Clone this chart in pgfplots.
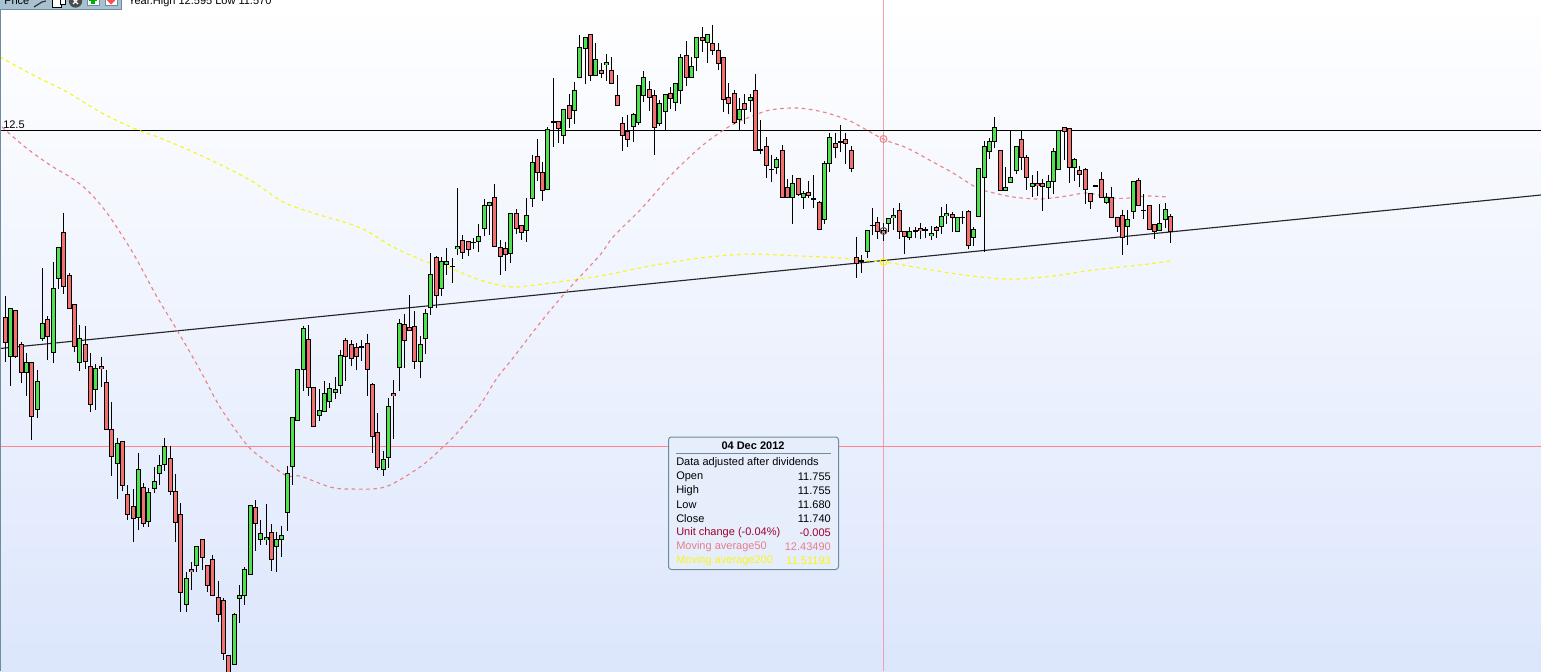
\documentclass[border=0pt]{standalone}
\usepackage{pgfplots}
\usepackage{pgfplotstable}
\usepackage{fontspec}
\setmainfont{Liberation Sans}
\pgfplotsset{compat=1.18}
\definecolor{cgreen}{RGB}{80,225,80}
\definecolor{cred}{RGB}{242,112,112}
\definecolor{ma50}{RGB}{235,130,135}
\definecolor{ma200}{RGB}{250,245,20}
\definecolor{hred}{RGB}{255,135,135}
\definecolor{cross}{RGB}{240,160,170}
\definecolor{bgbot}{RGB}{220,230,252}
\definecolor{framec}{RGB}{110,140,158}
\definecolor{boxf}{RGB}{230,238,252}
\definecolor{tool}{RGB}{168,193,208}
\definecolor{uchg}{RGB}{160,0,45}
\definecolor{ma50t}{RGB}{232,125,140}
% columns: day index, wick top, body top, body bottom, wick bottom (pixel rows of the chart)
\pgfplotstableread{
i wt bt bb wb
1 308.3 308.3 356.3 385.7
4 353 362.3 372.3 395.7
6 370.3 381.3 409.3 417.7
7 268.3 323.3 338.3 340.7
9 262.3 288.3 352.3 362.7
10 247.3 247.3 278.3 288.7
14 325.3 338.3 362.3 370.7
17 364.3 368.3 389.3 409.7
21 438.3 443.3 463.3 498.7
25 453.3 469.3 517.3 529.7
27 488.3 492.3 521.3 526.7
28 467.3 481.3 488.3 492.3
29 455.3 465.3 473.3 484.7
30 438.3 446.3 464.3 470.7
34 572.3 578.3 604.3 611.7
36 546.3 546.3 565.3 571.7
43 613.3 614.3 664.3 664.3
44 585.3 595.3 598.3 622.7
45 567.3 569.3 595.3 604.7
46 505.3 505.3 574.3 574.3
48 520.3 533.3 539.3 544.7
49 504.3 537.3 539.3 544.7
51 532.3 539.3 546.3 571.7
52 526.3 535.3 539.3 556.7
53 466.3 473.3 512.3 530.7
54 417.3 417.3 466.3 484.7
55 369.3 369.3 420.3 420.3
56 326.3 328.3 369.3 390
59 389 410.3 415.3 420
60 381.3 393.3 411.3 411.3
61 383.3 388.3 401.3 407
62 377.3 389.3 392.3 398.3
63 350.3 355.3 385.3 393.3
71 451.3 459.3 469.3 475
72 398.3 406.3 457.3 467.3
74 319.3 323.3 367.3 390.3
78 336.3 344.3 361.3 377
79 309.3 313.3 338.3 353
80 253.3 274.3 307.3 314
82 257.3 261.3 288.3 295.3
83 248.3 261.3 264.3 274
85 188.3 246.3 248.3 254
89 224.3 236.3 241.3 251
90 199.3 205.3 228.3 235.3
91 202.3 202.3 205.3 234.3
95 213.3 213.3 253.3 262
98 198.3 215.3 230.3 241.7
99 155 162.3 198.3 206.7
102 127.3 129.3 189.3 189.3
105 109.3 109.3 135.3 143.3
107 82.3 90.3 110.3 123.7
108 35.3 47.3 77.3 77.3
109 37.3 37.3 48.3 83.3
111 43.3 59.3 75.3 75.3
113 54.3 62.3 64.3 80
118 113.3 114.3 126.3 141.7
119 85.3 85.3 122.3 124.3
120 71.3 77.3 95.3 101.7
123 100.3 103.3 123.3 125.7
124 94.3 94.3 111.3 130.3
126 83.3 83.3 102.3 110
127 54.3 57.3 90.3 103.3
129 57.3 66.3 77.3 77.3
130 37.3 37.3 57.3 70
132 34.3 34.3 42.3 62.3
138 98.3 109.3 119.3 130.3
140 94.3 97.3 100.3 111.7
145 157.3 159.3 167.3 173.3
148 175.3 183.3 197.3 223.3
150 191.3 193.3 197.3 208.7
154 161.3 163.3 219.3 223.3
155 133.3 137.3 163.3 171.7
162 230.3 230.3 251.7 257.7
166 218.3 218.3 223.3 231.3
167 208.3 215.3 217.3 229.3
170 227.3 231.3 237.3 239.3
174 226.3 233.3 235.3 239.3
176 207.3 216.3 226.3 233.3
177 204.3 213.3 215.3 223.3
179 217.3 217.3 231.3 231.3
182 227.3 229.3 237.3 245.3
183 168.3 168.3 216.3 216.3
184 141.7 146.3 177.3 251.3
185 138.3 141.3 151.3 158.3
186 117.3 127.3 141.3 147.3
188 167.3 187.3 190.3 190.3
189 130.3 177.3 182.3 182.3
190 146.3 146.3 170.3 173.3
193 175.3 183.3 186.3 196.3
196 175.3 181.3 187.3 198.3
197 148.3 151.3 181.3 193.3
198 130.3 130.3 169.3 169.3
201 158.3 159.3 167.3 180
207 193.3 197.3 202.3 203.3
211 210.3 219.3 226.3 244.3
212 181.3 181.3 211.3 218.3
217 204.3 223.3 230.3 230.3
218 203.3 209.3 219.3 227.3
}\greentbl
\pgfplotstableread{
i wt bt bb wb
0 296 317 342.3 361
2 310.3 310.3 356.3 357.7
3 342.3 344.3 372.3 382.7
5 362.3 362.3 416.3 439.7
8 316.3 319.3 336.3 359.7
11 213.3 232.3 286.3 293.7
12 273.3 275.3 308.3 308.3
13 304.3 304.3 346.3 351.7
15 326.3 344.3 361.7 368.7
16 353.3 366.3 404.3 411.7
18 357.3 366.3 368.3 386.7
19 370.3 382.3 429.3 429.3
20 402.3 429.3 456.3 475.7
22 441.3 441.3 485.3 490.7
23 485.3 494.3 514.3 519.7
24 489.3 506.3 518.3 541.7
26 483.3 487.3 523.3 526.7
31 446.3 458.3 491.3 494.7
32 474.3 491.3 522.3 541.7
33 503.3 514.3 592.3 611.7
35 562.3 569.3 571.3 589.7
37 539.3 539.3 557.3 569.7
38 565.3 565.3 585.3 591.7
39 555.3 559.3 595.3 595.3
40 581.3 597.3 614.3 621.7
41 598.3 600.3 653.3 659.7
42 655.3 655.3 673 673
47 500.3 507.3 523.3 550.7
50 524.3 532.3 559.3 570.7
57 325.3 339.3 387.3 395
58 387.3 387.3 426.3 426.3
64 338.3 340.3 356.3 380
65 340.3 344.3 358.3 365
66 343.3 347.3 356.3 369
68 334.3 343.3 369.3 395
69 383.3 384.3 436.3 452
70 413.3 432.3 467.3 469
73 380.3 393.3 395.3 438
75 314.3 324.3 340.3 367
76 295.3 327.3 330.3 330.3
77 311.3 326.3 361.3 368
81 256.3 257.3 295.3 307.7
86 235.3 240.3 252.3 258
87 241.3 241.3 249.3 255
92 184.3 197.3 246.3 246.3
93 240.3 247.3 256.3 274
94 242.3 248.3 254.3 270
96 209.3 213.3 228.3 233.3
97 225.3 225.3 232.3 239.3
100 139.3 156.3 172.3 180
101 162.3 172.3 190.3 200
104 121.7 121.7 128.3 142.7
106 94.3 105.3 118.3 127.7
110 34.3 34.3 75.3 80.7
112 63.3 70.3 73.3 77.3
114 57.3 70.3 83.3 83.3
115 75.3 95.3 105.3 105.3
116 117.3 123.3 135.3 150
117 115.3 131.3 139.3 146.7
121 81.3 89.3 97.3 110
122 90.3 95.3 127.3 154
125 87.3 93.3 98.3 108.3
128 41.3 55.3 77.3 85.3
131 27.3 37.3 40.3 51.3
133 25.3 43.3 50.3 54.3
134 43.3 50.3 63.3 69
135 57.3 57.3 99.3 111.3
136 83.3 97.3 103.3 113.3
137 90.3 93.3 122.3 123.3
139 94.3 103.3 109.3 123.3
141 74.3 90.3 150.3 150.3
143 137.3 146.3 165.3 177.7
146 145.3 150.3 197.3 197.3
147 179.3 187.3 197.3 197.3
149 178.3 178.3 194.3 195.7
151 181.3 192.3 195.3 197.3
153 201.3 202.3 229.3 229.3
156 133.3 143.3 147.3 157.3
158 133.3 139.3 143.3 163.3
159 146.7 150.3 168.3 171.7
160 237 257.3 263.3 277.7
164 217.3 222.3 231.3 238.3
165 223.3 230.7 232.3 240
168 203.3 210.3 231.3 238.3
169 231.3 231.3 236.3 253.7
172 223.3 228.3 230.3 238.3
175 226.3 227.3 230.3 237.3
178 212.3 214.3 217.3 231.7
181 210.3 211.3 245.3 248.3
187 150.3 150.3 190.3 190.3
191 130.3 139.3 157.3 169.3
192 155.3 157.3 177.3 189.3
194 171.3 183.3 185.3 195.3
195 179.3 183.3 186.3 210
199 127.3 127.3 131.3 159.3
200 128.3 128.3 167.3 182.7
202 166.3 170.3 174.3 186.3
203 168.3 169.3 189.3 203.3
204 193.3 193.3 201.3 208
206 172.3 179.3 197.3 197.3
208 187.3 197.3 217.3 217.3
209 217.3 217.3 226.3 231.3
210 210.3 215.3 237.3 254.3
213 178.3 180.3 205.3 205.3
215 205.3 205.3 229.3 229.3
216 224.3 224.3 231.7 238.3
219 214 216.3 231.7 242
}\redtbl
\pgfplotstableread{
i wt y wb
67 340.3 346.7 360
84 258.3 266.3 282
88 238.3 242.3 248.3
103 78.3 121.7 146.7
142 120.3 150 153.3
144 155.3 169.3 181.7
152 175.3 198.7 207.3
157 125.3 142 151.3
161 255 261 272.3
163 208.3 225.3 234.7
171 227.3 230.7 237.3
173 227.3 229.7 237.3
180 211.3 217.3 223.3
205 185.3 186 186.7
214 194.3 210.3 218.3
}\dojitbl
\newcommand{\xpos}{floor(5.33+5.32*\thisrow{i})+0.5}
\newcommand{\wicks}[1]{%
 \addplot[draw=none,mark=none,forget plot,error bars/.cd,y dir=both,y explicit,error mark=none,
   error bar style={solid,draw=black,line width=0.75pt}]
   table[x expr={\xpos},y expr={(floor(\thisrow{wt})+floor(\thisrow{wb})+1)/2},y error expr={(floor(\thisrow{wb})+1-floor(\thisrow{wt}))/2}]{#1};}
\newcommand{\bodies}[2]{%
 \addplot[draw=none,mark=none,forget plot,error bars/.cd,y dir=both,y explicit,error mark=none,
   error bar style={solid,draw=black,line width=3.75pt}]
   table[x expr={\xpos},y expr={(floor(\thisrow{bt})+floor(\thisrow{bb})+1)/2},y error expr={(floor(\thisrow{bb})+1-floor(\thisrow{bt}))/2}]{#1};
 \addplot[draw=none,mark=none,forget plot,error bars/.cd,y dir=both,y explicit,error mark=none,
   error bar style={solid,draw=#2,line width=2.6pt}]
   table[x expr={\xpos},y expr={(floor(\thisrow{bt})+floor(\thisrow{bb})+1)/2},y error expr={max((floor(\thisrow{bb})+1-floor(\thisrow{bt}))/2-1,0.3)}]{#1};}
\newcommand{\tf}{\fontsize{8.25}{10}\selectfont}
\begin{document}
\begin{tikzpicture}
\begin{axis}[
  scale only axis,width=1155.75pt,height=503.25pt,
  xmin=0,xmax=1541,ymin=0,ymax=671,y dir=reverse,
  axis lines=none,clip=true,
  axis background/.style={top color=white,bottom color=bgbot},
]
% crosshair and horizontal levels
\addplot[cross,line width=0.75pt,forget plot] coordinates {(883.5,0) (883.5,671)};
\addplot[black,line width=0.75pt,forget plot] coordinates {(0,130.5) (1541,130.5)};
\addplot[hred,line width=0.75pt,forget plot] coordinates {(0,446.5) (1541,446.5)};
\addplot[black!85,line width=0.85pt,forget plot] coordinates {(0,348.5) (1541,195)};
% moving average 200
\addplot[ma200,smooth,line width=0.85pt,dash pattern=on 2.7pt off 2.7pt,forget plot] coordinates {
(0,57) (33,75) (67,92) (100,112) (133,128) (160,138) (200,155) (250,180) (283,202) (313,213) (347,223) (367,231) (393,247) (427,262) (450,268) (480,280) (513,287) (557,282) (600,276) (650,266) (700,258) (750,254) (800,256) (840,258) (883,262) (897,264) (950,273) (990,278) (1017,279) (1053,276) (1093,270) (1140,265) (1170,261)};
% moving average 50
\addplot[ma50,smooth,line width=0.85pt,dash pattern=on 2.7pt off 2.7pt,forget plot] coordinates {
(2,127) (25,147) (50,165) (70,177) (87,190) (107,213) (133,253) (157,297) (177,330) (200,370) (220,407) (247,445) (267,462) (287,476) (300,476) (330,487) (350,489) (385,487) (420,467) (443,447) (457,433) (480,405) (497,378) (513,358) (540,323) (565,293) (600,255) (613,237) (642,208) (673,173) (703,145) (730,126) (750,117) (770,110) (797,108) (823,112) (850,121) (883,139) (907,148) (933,162) (953,173) (977,188) (990,192) (1013,197) (1040,199) (1067,196) (1087,193) (1113,198) (1130,198) (1147,196) (1167,197)};
% candles
\wicks{\greentbl}\wicks{\redtbl}\wicks{\dojitbl}
\bodies{\greentbl}{cgreen}
\bodies{\redtbl}{cred}
\addplot[draw=none,mark=none,forget plot,error bars/.cd,y dir=both,y explicit,error mark=none,
   error bar style={solid,draw=black,line width=3.75pt}]
   table[x expr={\xpos},y=y,y error expr=0.6]{\dojitbl};
% markers on the crosshair
\draw[ma50,line width=0.75pt] (axis cs:883.5,139) circle[radius=2.6pt];
\draw[black!70,line width=0.75pt] (axis cs:883.5,231) circle[radius=2.6pt];
\draw[ma200,line width=0.75pt] (axis cs:883.5,262) circle[radius=2.6pt];
% left frame and level label
\fill[framec] (axis cs:0,0) rectangle (axis cs:1.2,671);
\node[anchor=west,inner sep=0pt,font=\tf] at (axis cs:3,124.5) {12.5};
% toolbar
\fill[tool] (axis cs:0,0) rectangle (axis cs:121,9.5);
\draw[framec,line width=0.75pt] (axis cs:0,9.5) -- (axis cs:121,9.5) -- (axis cs:121,0);
\node[anchor=west,inner sep=0pt,font=\tf] at (axis cs:4,1) {Price};
\draw[black!80,line width=0.9pt] (axis cs:34,7) -- (axis cs:42,2) -- (axis cs:46,1);
\draw[black,line width=0.75pt,fill=white] (axis cs:52,-2) rectangle (axis cs:61,7);
\draw[black,line width=0.75pt,fill=white] (axis cs:60,-1) rectangle (axis cs:65,4);
\fill[black!70] (axis cs:75.5,1) circle[radius=5pt];
\draw[white,line width=0.9pt] (axis cs:73,-1) -- (axis cs:78,4) (axis cs:78,-1) -- (axis cs:73,4);
\fill[white] (axis cs:87,-1) rectangle (axis cs:99,5);
\draw[framec,line width=0.75pt] (axis cs:87,-1) rectangle (axis cs:99,5);
\fill[green!70!black] (axis cs:91,-1) rectangle (axis cs:95,3.5);
\fill[green!70!black] (axis cs:89,-1) rectangle (axis cs:97,1);
\fill[white] (axis cs:105,-1) rectangle (axis cs:117,5);
\draw[framec,line width=0.75pt] (axis cs:105,-1) rectangle (axis cs:117,5);
\fill[red!70] (axis cs:107,-1) -- (axis cs:115,-1) -- (axis cs:115,0.5) -- (axis cs:111,4.5) -- (axis cs:107,0.5) -- cycle;
\node[anchor=west,inner sep=0pt,font=\tf] at (axis cs:128,1.8) {Year.High 12.595 Low 11.570};
% information box
\draw[framec,fill=boxf,line width=0.75pt,rounded corners=2.2pt] (axis cs:668.5,437) rectangle (axis cs:838.5,569.5);
\draw[framec,line width=0.75pt] (axis cs:676,453.5) -- (axis cs:831,453.5);
\node[inner sep=0pt,font=\tf\bfseries] at (axis cs:753,446) {04 Dec 2012};
\node[anchor=west,inner sep=0pt,font=\tf] at (axis cs:676,463) {Data adjusted after dividends};
\node[anchor=west,inner sep=0pt,font=\tf] at (axis cs:676,477) {Open};
\node[anchor=east,inner sep=0pt,font=\tf] at (axis cs:831,477) {11.755};
\node[anchor=west,inner sep=0pt,font=\tf] at (axis cs:676,491) {High};
\node[anchor=east,inner sep=0pt,font=\tf] at (axis cs:831,491) {11.755};
\node[anchor=west,inner sep=0pt,font=\tf] at (axis cs:676,505) {Low};
\node[anchor=east,inner sep=0pt,font=\tf] at (axis cs:831,505) {11.680};
\node[anchor=west,inner sep=0pt,font=\tf] at (axis cs:676,519) {Close};
\node[anchor=east,inner sep=0pt,font=\tf] at (axis cs:831,519) {11.740};
\node[anchor=west,inner sep=0pt,text=uchg,font=\tf] at (axis cs:676,533) {Unit change (-0.04\%)};
\node[anchor=east,inner sep=0pt,text=uchg,font=\tf] at (axis cs:831,533) {-0.005};
\node[anchor=west,inner sep=0pt,text=ma50t,font=\tf] at (axis cs:676,547) {Moving average50};
\node[anchor=east,inner sep=0pt,text=ma50t,font=\tf] at (axis cs:831,547) {12.43490};
\node[anchor=west,inner sep=0pt,text=ma200,font=\tf] at (axis cs:676,561) {Moving average200};
\node[anchor=east,inner sep=0pt,text=ma200,font=\tf] at (axis cs:831,561) {11.51193};
\end{axis}
\end{tikzpicture}
\end{document}
